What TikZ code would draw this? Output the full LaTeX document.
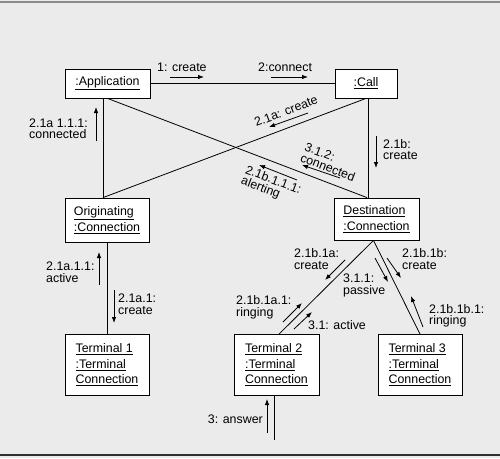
\documentclass[tikz,border=0pt]{standalone}
\usepackage{fontspec}
\setmainfont{Liberation Sans}
\usetikzlibrary{arrows.meta}
\definecolor{bggray}{HTML}{EBEBEB}
\definecolor{topgray}{HTML}{8C8C8C}
\definecolor{botgray}{HTML}{303030}

\begin{document}
\begin{tikzpicture}[x=1pt,y=-1pt,
    font=\fontsize{12.4}{11.5}\selectfont,
    block_obj/.style ={rectangle, draw=black, line width=0.8pt, fill=white,
      align=left, inner sep=0pt, font=\fontsize{12.4}{15.5}\selectfont},
    block_label/.style ={anchor=west, align=left, inner sep=0pt},
    link/.style ={draw, line width=0.8pt},
    msg/.style ={draw, line width=0.8pt, -{Latex[length=6pt,width=4.5pt]}}]
    % page background and rules
    \useasboundingbox (0,0) rectangle (500,458);
    \fill[bggray] (0,0) rectangle (500,458);
    \draw[topgray, line width=2pt] (0,2) -- (500,2);
    \draw[botgray, line width=2pt] (0,455) -- (500,455);
    % objects
    \node [block_obj, minimum width=85, minimum height=29] (app) at (107.5,83.5) {\underline{:Application}};
    \node [block_obj, minimum width=62, minimum height=29] (call) at (366,83.5) {\underline{:Call}};
    \node [block_obj, minimum width=84, minimum height=44] (orig) at (107,220) {\underline{Originating}\\\underline{:Connection}};
    \node [block_obj, minimum width=85, minimum height=42] (dest) at (376.5,219) {\underline{Destination}\\\underline{:Connection}};
    \node [block_obj, minimum width=84, minimum height=61] (term1) at (107,365) {\underline{Terminal 1}\\\underline{:Terminal}\\\underline{Connection}};
    \node [block_obj, minimum width=85, minimum height=61] (term2) at (276.5,365) {\underline{Terminal 2}\\\underline{:Terminal}\\\underline{Connection}};
    \node [block_obj, minimum width=84, minimum height=61] (term3) at (420,365) {\underline{Terminal 3}\\\underline{:Terminal}\\\underline{Connection}};
    \coordinate (answer) at (274,440);
    % links between objects
    \begin{scope}[every path/.style=link]
      \path (app.east) -- (call.west);
      \path ([xshift=-4.5]app.south) -- ([xshift=-4]orig.north);
      \path (call.south) -- ([xshift=-4]orig.north);
      \path (app.south) -- ([xshift=-9.5]dest.north);
      \path ([xshift=2]call.south) -- ([xshift=-8.5]dest.north);
      \path (orig.south) -- (term1.north);
      \path ([xshift=-3]dest.south) -- ([xshift=2.5]term2.north);
      \path ([xshift=-3]dest.south) -- (term3.north);
      \path ([xshift=-2.5]term2.south) -- (answer);
    \end{scope}
    % messages
    \begin{scope}[every path/.style=msg]
      \path (170,77) -- (204,77);
      \path (271,77) -- (308,77);
      \path (96,141) -- (96,107);
      \path (308,113) -- (269,127);
      \path (340,178) -- (302,165);
      \path (297,180) -- (259,165);
      \path (376,136) -- (376,168);
      \path (99,285) -- (99,252);
      \path (114,290) -- (114,323);
      \path (345,260) -- (325,280);
      \path (375,258) -- (388,282);
      \path (387,258) -- (401,278);
      \path (423,327) -- (411,296);
      \path (283,322) -- (302,303);
      \path (294,329) -- (312,312);
      \path (267,433) -- (267,399);
    \end{scope}
    % message labels
    \node [block_label] (l1) at (157,67) {1: create};
    \node [block_label] (l2) at (258,67) {2:connect};
    \node [block_label] (l3) at (29,128.5) {2.1a 1.1.1:\\connected};
    \node [block_label, anchor=center, rotate=21] (l4) at (286,111) {2.1a: create};
    \node [block_label, anchor=center, rotate=-21] (l5) at (330,162) {3.1.2:\\connected};
    \node [block_label, anchor=center, rotate=-21] (l6) at (271,186) {2.1b.1.1.1:\\alerting};
    \node [block_label] (l7) at (383,149.5) {2.1b:\\create};
    \node [block_label] (l8) at (46,272) {2.1a.1.1:\\active};
    \node [block_label] (l9) at (118,304) {2.1a.1:\\create};
    \node [block_label] (l10) at (294,259) {2.1b.1a:\\create};
    \node [block_label] (l11) at (343,285.5) {3.1.1:\\passive};
    \node [block_label] (l12) at (402,259) {2.1b.1b:\\create};
    \node [block_label] (l13) at (236,307.5) {2.1b.1a.1:\\ringing};
    \node [block_label] (l14) at (429,316) {2.1b.1b.1:\\ringing};
    \node [block_label] (l15) at (308,325) {3.1: active};
    \node [block_label, anchor=east] (l16) at (263,419) {3: answer};
\end{tikzpicture}
\end{document}
